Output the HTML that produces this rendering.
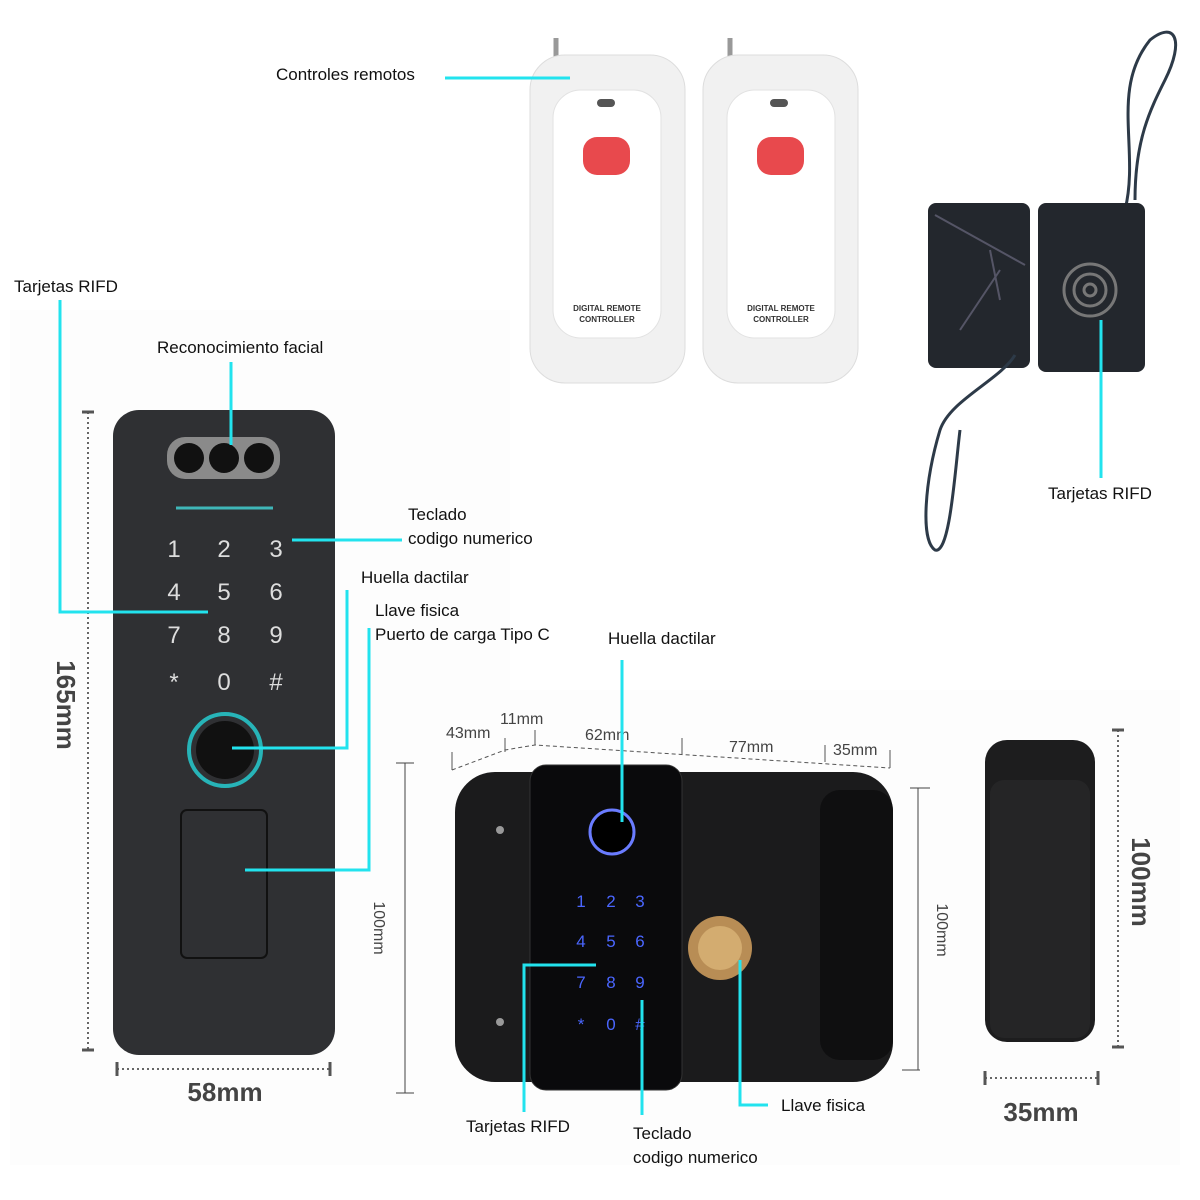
<!DOCTYPE html>
<html><head><meta charset="utf-8"><style>
html,body{margin:0;padding:0;background:#fff}
svg{display:block}
text{font-family:"Liberation Sans",sans-serif}
</style></head><body>
<svg width="1200" height="1200" viewBox="0 0 1200 1200" xmlns="http://www.w3.org/2000/svg">
<rect width="1200" height="1200" fill="#fff"/>
<rect x="10" y="310" width="500" height="855" fill="#fdfdfd"/>
<rect x="440" y="690" width="740" height="475" fill="#fdfdfd"/>

<!-- Remotes -->
<g>
 <line x1="556" y1="38" x2="556" y2="66" stroke="#999" stroke-width="5"/>
 <rect x="530" y="55" width="155" height="328" rx="35" fill="#f1f1f1" stroke="#ddd"/>
 <rect x="553" y="90" width="108" height="248" rx="28" fill="#fff" stroke="#e2e2e2"/>
 <rect x="597" y="99" width="18" height="8" rx="4" fill="#555"/>
 <rect x="583" y="137" width="47" height="38" rx="14" fill="#e8494d"/>
 <text x="607" y="311" font-size="8" font-weight="bold" text-anchor="middle" fill="#333">DIGITAL REMOTE</text>
 <text x="607" y="322" font-size="8" font-weight="bold" text-anchor="middle" fill="#333">CONTROLLER</text>
</g>
<g>
 <line x1="730" y1="38" x2="730" y2="66" stroke="#999" stroke-width="5"/>
 <rect x="703" y="55" width="155" height="328" rx="35" fill="#f1f1f1" stroke="#ddd"/>
 <rect x="727" y="90" width="108" height="248" rx="28" fill="#fff" stroke="#e2e2e2"/>
 <rect x="770" y="99" width="18" height="8" rx="4" fill="#555"/>
 <rect x="757" y="137" width="47" height="38" rx="14" fill="#e8494d"/>
 <text x="781" y="311" font-size="8" font-weight="bold" text-anchor="middle" fill="#333">DIGITAL REMOTE</text>
 <text x="781" y="322" font-size="8" font-weight="bold" text-anchor="middle" fill="#333">CONTROLLER</text>
</g>

<!-- Cards -->
<path d="M1125,210 C1140,150 1110,90 1150,40 C1175,20 1185,40 1165,80 C1150,110 1135,140 1135,200" fill="none" stroke="#2d3a48" stroke-width="3"/>
<rect x="928" y="203" width="102" height="165" rx="8" fill="#23272d"/>
<path d="M935,215 L1025,265 M960,330 L1000,270 M990,250 L1000,300" stroke="#556" stroke-width="2" fill="none"/>
<rect x="1038" y="203" width="107" height="169" rx="8" fill="#23272d"/>
<circle cx="1090" cy="290" r="26" fill="none" stroke="#777" stroke-width="3"/>
<circle cx="1090" cy="290" r="16" fill="none" stroke="#777" stroke-width="3"/>
<circle cx="1090" cy="290" r="6" fill="none" stroke="#777" stroke-width="3"/>
<path d="M1015,355 C1000,380 950,400 940,430 C925,480 920,540 935,550 C950,555 955,470 960,430" fill="none" stroke="#2d3a48" stroke-width="3"/>

<!-- Left lock -->
<rect x="113" y="410" width="222" height="645" rx="26" fill="#2f3033"/>
<rect x="167" y="437" width="113" height="42" rx="18" fill="#8a8a8a"/>
<circle cx="189" cy="458" r="15" fill="#111"/><circle cx="224" cy="458" r="15" fill="#111"/><circle cx="259" cy="458" r="15" fill="#111"/>
<line x1="176" y1="508" x2="273" y2="508" stroke="#3fb6b8" stroke-width="3"/>
<g font-size="24" fill="#ddd" text-anchor="middle">
 <text x="174" y="557">1</text><text x="224" y="557">2</text><text x="276" y="557">3</text>
 <text x="174" y="600">4</text><text x="224" y="600">5</text><text x="276" y="600">6</text>
 <text x="174" y="643">7</text><text x="224" y="643">8</text><text x="276" y="643">9</text>
 <text x="174" y="690">*</text><text x="224" y="690">0</text><text x="276" y="690">#</text>
</g>
<circle cx="225" cy="750" r="36" fill="none" stroke="#27b4b8" stroke-width="4"/>
<circle cx="225" cy="750" r="29" fill="#111"/>
<rect x="181" y="810" width="86" height="148" rx="6" fill="none" stroke="#111" stroke-width="2"/>

<!-- left dims -->
<line x1="88" y1="412" x2="88" y2="1050" stroke="#666" stroke-width="2" stroke-dasharray="2,3"/>
<line x1="82" y1="412" x2="94" y2="412" stroke="#555" stroke-width="3"/>
<line x1="82" y1="1050" x2="94" y2="1050" stroke="#555" stroke-width="3"/>
<text transform="translate(57,705) rotate(90)" font-size="26" font-weight="bold" fill="#444" text-anchor="middle">165mm</text>
<line x1="117" y1="1069" x2="330" y2="1069" stroke="#666" stroke-width="2" stroke-dasharray="2,3"/>
<line x1="117" y1="1062" x2="117" y2="1076" stroke="#555" stroke-width="3"/>
<line x1="330" y1="1062" x2="330" y2="1076" stroke="#555" stroke-width="3"/>
<text x="225" y="1101" font-size="26" font-weight="bold" fill="#444" text-anchor="middle">58mm</text>

<!-- Middle lock -->
<rect x="455" y="772" width="438" height="310" rx="40" fill="#1b1b1c"/>
<rect x="820" y="790" width="73" height="270" rx="20" fill="#0f0f10"/>
<rect x="530" y="765" width="152" height="325" rx="16" fill="#0a0a0c" stroke="#333"/>
<circle cx="612" cy="832" r="22" fill="#000" stroke="#6a7cff" stroke-width="3"/>
<g font-size="17" fill="#4a66ff" text-anchor="middle">
 <text x="581" y="907">1</text><text x="611" y="907">2</text><text x="640" y="907">3</text>
 <text x="581" y="947">4</text><text x="611" y="947">5</text><text x="640" y="947">6</text>
 <text x="581" y="988">7</text><text x="611" y="988">8</text><text x="640" y="988">9</text>
 <text x="581" y="1030">*</text><text x="611" y="1030">0</text><text x="640" y="1030">#</text>
</g>
<circle cx="720" cy="948" r="32" fill="#b88d55"/>
<circle cx="720" cy="948" r="22" fill="#d3ac70"/>
<circle cx="500" cy="830" r="4" fill="#999"/><circle cx="500" cy="1022" r="4" fill="#999"/>

<!-- middle dims -->
<line x1="405" y1="763" x2="405" y2="1093" stroke="#444" stroke-width="1"/>
<line x1="396" y1="763" x2="414" y2="763" stroke="#444"/><line x1="396" y1="1093" x2="414" y2="1093" stroke="#444"/>
<text transform="translate(374,928) rotate(90)" font-size="16" fill="#444" text-anchor="middle">100mm</text>
<line x1="918" y1="788" x2="918" y2="1070" stroke="#444" stroke-width="1"/>
<line x1="910" y1="788" x2="930" y2="788" stroke="#444"/><line x1="902" y1="1070" x2="920" y2="1070" stroke="#444"/>
<text transform="translate(937,930) rotate(90)" font-size="16" fill="#444" text-anchor="middle">100mm</text>
<path d="M452,770 L505,750 L535,745 L890,768" fill="none" stroke="#555" stroke-dasharray="4,3"/>
<line x1="452" y1="752" x2="452" y2="770" stroke="#555"/>
<line x1="505" y1="738" x2="505" y2="752" stroke="#555"/>
<line x1="535" y1="730" x2="535" y2="745" stroke="#555"/>
<line x1="682" y1="738" x2="682" y2="754" stroke="#555"/>
<line x1="825" y1="745" x2="825" y2="762" stroke="#555"/>
<line x1="890" y1="750" x2="890" y2="768" stroke="#555"/>
<g font-size="16" fill="#444">
 <text x="446" y="738">43mm</text><text x="500" y="724">11mm</text><text x="585" y="740">62mm</text>
 <text x="729" y="752">77mm</text><text x="833" y="755">35mm</text>
</g>

<!-- Right lock -->
<rect x="985" y="740" width="110" height="302" rx="22" fill="#1d1d1e"/>
<rect x="990" y="780" width="100" height="258" rx="14" fill="#252526"/>
<line x1="1118" y1="730" x2="1118" y2="1047" stroke="#666" stroke-width="2" stroke-dasharray="2,3"/>
<line x1="1112" y1="730" x2="1124" y2="730" stroke="#555" stroke-width="3"/><line x1="1112" y1="1047" x2="1124" y2="1047" stroke="#555" stroke-width="3"/>
<text transform="translate(1132,882) rotate(90)" font-size="26" font-weight="bold" fill="#444" text-anchor="middle">100mm</text>
<line x1="985" y1="1078" x2="1098" y2="1078" stroke="#666" stroke-width="2" stroke-dasharray="2,3"/>
<line x1="985" y1="1071" x2="985" y2="1085" stroke="#555" stroke-width="3"/><line x1="1098" y1="1071" x2="1098" y2="1085" stroke="#555" stroke-width="3"/>
<text x="1041" y="1121" font-size="26" font-weight="bold" fill="#444" text-anchor="middle">35mm</text>

<!-- Cyan callouts -->
<g stroke="#22e3ee" stroke-width="3" fill="none">
 <line x1="445" y1="78" x2="570" y2="78"/>
 <polyline points="60,300 60,612 208,612"/>
 <line x1="231" y1="362" x2="231" y2="445"/>
 <line x1="292" y1="540" x2="402" y2="540"/>
 <polyline points="347,590 347,748 232,748"/>
 <polyline points="369,628 369,870 245,870"/>
 <line x1="622" y1="660" x2="622" y2="822"/>
 <polyline points="524,1112 524,965 596,965"/>
 <line x1="642" y1="1000" x2="642" y2="1115"/>
 <polyline points="740,960 740,1105 768,1105"/>
 <line x1="1101" y1="320" x2="1101" y2="478"/>
</g>

<!-- Labels -->
<g font-size="17" fill="#111">
 <text x="276" y="80">Controles remotos</text>
 <text x="14" y="292">Tarjetas RIFD</text>
 <text x="157" y="353">Reconocimiento facial</text>
 <text x="408" y="520">Teclado</text>
 <text x="408" y="544">codigo numerico</text>
 <text x="361" y="583">Huella dactilar</text>
 <text x="375" y="616">Llave fisica</text>
 <text x="375" y="640">Puerto de carga Tipo C</text>
 <text x="608" y="644">Huella dactilar</text>
 <text x="1048" y="499">Tarjetas RIFD</text>
 <text x="466" y="1132">Tarjetas RIFD</text>
 <text x="633" y="1139">Teclado</text>
 <text x="633" y="1163">codigo numerico</text>
 <text x="781" y="1111">Llave fisica</text>
</g>
</svg>
</body></html>
